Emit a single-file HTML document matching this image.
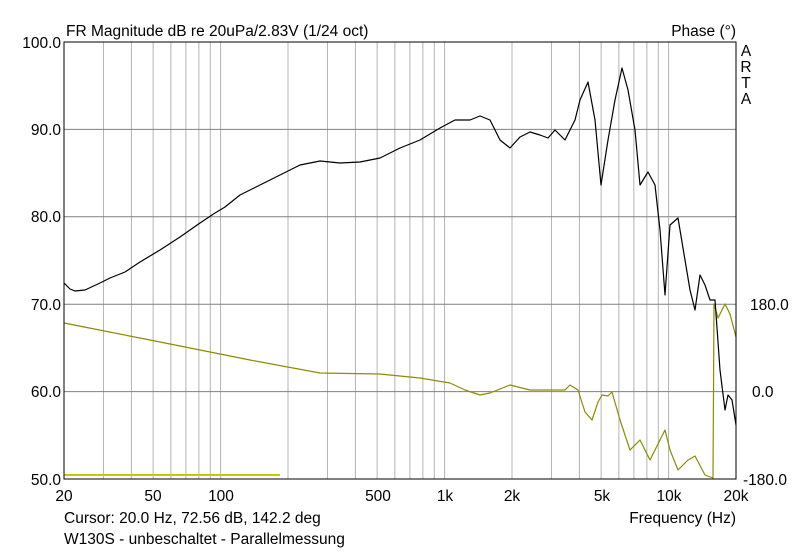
<!DOCTYPE html>
<html><head><meta charset="utf-8"><style>
body{margin:0;background:#fff;}
svg text{font-family:"Liberation Sans",Arial,sans-serif;font-size:15.5px;fill:#000;}
</style></head><body>
<svg width="800" height="551" xmlns="http://www.w3.org/2000/svg">
<rect width="800" height="551" fill="#fff"/>
<g stroke="#b4b4b4" stroke-width="1" id="vg"></g>
<g stroke="#808080" stroke-width="1">
<line x1="64" y1="129.4" x2="736" y2="129.4"/>
<line x1="64" y1="216.8" x2="736" y2="216.8"/>
<line x1="64" y1="304.2" x2="736" y2="304.2"/>
<line x1="64" y1="391.6" x2="736" y2="391.6"/>
</g>
<line x1="64" y1="475" x2="280" y2="475" stroke="#c8c800" stroke-width="2"/>
<polyline fill="none" stroke="#8c8c00" stroke-width="1.2" stroke-linejoin="round" points="64,323 150,340 250,360 320,373 380,374 420,378 450,383 465,390 480,395 490,393 500,389 510,385 530,390 550,390 565,390 570,385 578,390 585,412 592,420 598,402 602,395 608,396 612,392 620,420 630,450 640,440 650,460 660,440 665,430 670,450 678,470 688,460 695,456 705,475 713,478 714,304 718,318 725,304 730,314 736,337"/>
<polyline fill="none" stroke="#000" stroke-width="1.2" stroke-linejoin="round" points="64,283 70,289 75,291 85,290 100,283 110,278 125,272 140,262 160,250 180,237 200,223 215,213 225,207 240,195 260,185 280,175 300,165 320,161 340,163 360,162 380,158 400,148 420,140 440,128 455,120 470,120 480,116 490,120 500,140 510,148 520,137 530,132 540,135 548,138 555,130 565,140 575,120 580,100 588,82 595,120 601,185 608,140 615,100 622,68 628,90 635,130 640,185 648,172 655,185 660,230 665,295 670,225 678,218 685,260 690,290 695,310 700,275 705,285 710,300 715,300 720,370 725,410 728,395 732,400 736,425"/>
<rect x="64" y="42" width="672" height="437" fill="none" stroke="#000" stroke-width="1"/>
<text x="66" y="36">FR Magnitude dB re 20uPa/2.83V (1/24 oct)</text>
<text x="736" y="36" text-anchor="end">Phase (°)</text>
<g text-anchor="middle"><text x="746" y="56">A</text><text x="746" y="72">R</text><text x="746" y="88">T</text><text x="746" y="104">A</text></g>
<g text-anchor="end">
<text x="61" y="48">100.0</text><text x="61" y="135">90.0</text><text x="61" y="222">80.0</text><text x="61" y="310">70.0</text><text x="61" y="397">60.0</text><text x="61" y="485">50.0</text>
</g>
<text x="750" y="310">180.0</text><text x="752" y="397">0.0</text><text x="743" y="485">-180.0</text>
<g text-anchor="middle">
<text x="64" y="501">20</text><text x="153" y="501">50</text><text x="221" y="501">100</text><text x="378" y="501">500</text><text x="445" y="501">1k</text><text x="512" y="501">2k</text><text x="602" y="501">5k</text><text x="669" y="501">10k</text><text x="736" y="501">20k</text>
</g>
<text x="736" y="523" text-anchor="end">Frequency (Hz)</text>
<text x="64" y="523">Cursor: 20.0 Hz, 72.56 dB, 142.2 deg</text>
<text x="64" y="544">W130S - unbeschaltet - Parallelmessung</text>
<script>
var g=document.getElementById('vg');
var fs=[];
[10,100,1000,10000].forEach(function(d){for(var m=1;m<10;m++){var f=d*m;if(f>20&&f<20000)fs.push(f);}});
fs.forEach(function(f){var x=64+224*Math.log10(f/20);var l=document.createElementNS('http://www.w3.org/2000/svg','line');l.setAttribute('x1',x);l.setAttribute('x2',x);l.setAttribute('y1',42);l.setAttribute('y2',479);g.appendChild(l);});
</script>
</svg>
</body></html>
